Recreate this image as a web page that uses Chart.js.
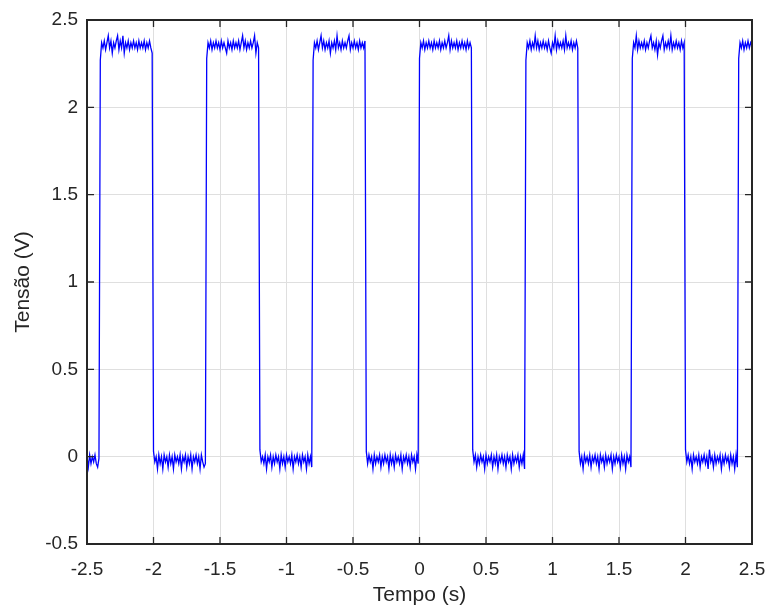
<!DOCTYPE html>
<html>
<head>
<meta charset="utf-8">
<title>Tensão x Tempo</title>
<script src="https://cdn.jsdelivr.net/npm/chart.js@4.4.1/dist/chart.umd.min.js"></script>
<style>
  html, body { margin: 0; padding: 0; background: #fff; }
  canvas { display: block; background: #fff; }
</style>
</head>
<body>
<canvas id="wave" width="768" height="608"></canvas>
<script>
var sampleStep = 0.01;

var segmentStart = [-2.5, -2.4, -2.0, -1.6, -1.2, -0.8, -0.4, 0.0, 0.4, 0.8, 1.2, 1.6, 2.0, 2.4];

var low00 = [0.00, -0.06, 0.01, -0.04, 0.00, -0.03, 0.01, -0.04, -0.06, -0.01];
var high01 = [2.27, 2.37, 2.34, 2.38, 2.33, 2.37, 2.41, 2.34, 2.38, 2.31,
              2.37, 2.34, 2.38, 2.41, 2.33, 2.38, 2.34, 2.41, 2.31, 2.37,
              2.34, 2.38, 2.33, 2.37, 2.34, 2.38, 2.34, 2.37, 2.33, 2.38,
              2.34, 2.37, 2.34, 2.38, 2.33, 2.37, 2.34, 2.38, 2.34, 2.31];
var low02 = [0.03, -0.03, 0.00, -0.07, 0.01, -0.04, 0.00, -0.07, 0.01, -0.03,
             0.00, -0.06, 0.01, -0.04, 0.00, -0.07, 0.01, -0.03, 0.00, -0.04,
             0.01, -0.07, 0.00, -0.03, 0.01, -0.06, 0.00, -0.04, 0.01, -0.07,
             0.00, -0.03, 0.01, -0.04, 0.00, -0.07, 0.01, -0.03, -0.06, -0.04];
var high03 = [2.28, 2.37, 2.34, 2.38, 2.33, 2.37, 2.34, 2.38, 2.34, 2.37,
              2.33, 2.38, 2.34, 2.37, 2.34, 2.31, 2.38, 2.34, 2.37, 2.33,
              2.38, 2.34, 2.37, 2.34, 2.38, 2.33, 2.37, 2.41, 2.34, 2.38,
              2.33, 2.37, 2.34, 2.38, 2.34, 2.37, 2.41, 2.31, 2.37, 2.34];
var low04 = [0.04, -0.03, 0.00, -0.04, 0.01, -0.07, 0.00, -0.03, 0.01, -0.06,
             0.00, -0.04, 0.01, -0.03, 0.00, -0.07, 0.01, -0.04, 0.00, -0.06,
             0.01, -0.03, 0.00, -0.04, 0.01, -0.07, 0.00, -0.03, 0.01, -0.04,
             0.00, -0.06, 0.01, -0.03, 0.00, -0.07, 0.01, -0.04, 0.00, -0.06];
var high05 = [2.27, 2.37, 2.34, 2.38, 2.33, 2.37, 2.41, 2.34, 2.38, 2.33,
              2.37, 2.34, 2.38, 2.31, 2.37, 2.34, 2.38, 2.33, 2.41, 2.34,
              2.37, 2.33, 2.38, 2.34, 2.37, 2.34, 2.38, 2.41, 2.33, 2.37,
              2.34, 2.38, 2.34, 2.37, 2.33, 2.38, 2.34, 2.37, 2.34, 2.38];
var low06 = [0.03, -0.04, 0.01, -0.03, 0.00, -0.07, 0.01, -0.04, 0.00, -0.03,
             0.01, -0.06, 0.00, -0.04, 0.01, -0.03, 0.00, -0.07, 0.01, -0.04,
             0.00, -0.06, 0.01, -0.03, 0.00, -0.04, 0.01, -0.07, 0.00, -0.03,
             0.01, -0.04, 0.00, -0.06, 0.01, -0.03, 0.00, -0.07, 0.01, -0.04];
var high07 = [2.28, 2.37, 2.34, 2.38, 2.33, 2.37, 2.34, 2.38, 2.34, 2.37,
              2.33, 2.38, 2.34, 2.37, 2.34, 2.38, 2.33, 2.37, 2.34, 2.38,
              2.34, 2.37, 2.41, 2.33, 2.38, 2.34, 2.37, 2.34, 2.38, 2.33,
              2.37, 2.34, 2.38, 2.34, 2.37, 2.33, 2.38, 2.34, 2.37, 2.34];
var low08 = [0.04, -0.03, 0.01, -0.06, 0.00, -0.04, 0.01, -0.03, 0.00, -0.07,
             0.01, -0.04, 0.00, -0.03, 0.01, -0.06, 0.00, -0.04, 0.01, -0.07,
             0.00, -0.03, 0.01, -0.04, 0.00, -0.06, 0.01, -0.03, 0.00, -0.07,
             0.01, -0.04, 0.00, -0.03, 0.01, -0.06, 0.00, -0.04, 0.01, -0.07];
var high09 = [2.27, 2.37, 2.34, 2.38, 2.33, 2.37, 2.34, 2.41, 2.34, 2.38,
              2.33, 2.37, 2.34, 2.38, 2.34, 2.37, 2.33, 2.38, 2.34, 2.31,
              2.37, 2.34, 2.41, 2.33, 2.38, 2.34, 2.37, 2.34, 2.38, 2.33,
              2.41, 2.34, 2.37, 2.34, 2.38, 2.33, 2.37, 2.34, 2.38, 2.34];
var low10 = [0.03, -0.04, 0.00, -0.07, 0.01, -0.03, 0.00, -0.04, 0.01, -0.06,
             0.00, -0.03, 0.01, -0.04, 0.00, -0.07, 0.01, -0.03, 0.00, -0.06,
             0.01, -0.04, 0.00, -0.03, 0.01, -0.07, 0.00, -0.04, 0.01, -0.03,
             0.00, -0.06, 0.01, -0.04, 0.00, -0.07, 0.01, -0.03, 0.00, -0.06];
var high11 = [2.28, 2.37, 2.34, 2.41, 2.33, 2.38, 2.34, 2.37, 2.34, 2.38,
              2.33, 2.37, 2.34, 2.38, 2.41, 2.34, 2.37, 2.33, 2.38, 2.30,
              2.37, 2.34, 2.38, 2.41, 2.33, 2.37, 2.34, 2.38, 2.34, 2.41,
              2.33, 2.37, 2.34, 2.38, 2.34, 2.37, 2.33, 2.38, 2.34, 2.37];
var low12 = [0.04, -0.03, 0.01, -0.04, 0.00, -0.07, 0.01, -0.03, 0.00, -0.04,
             0.01, -0.06, 0.00, -0.03, 0.01, -0.04, 0.00, -0.07, 0.04, -0.03,
             0.00, -0.06, 0.01, -0.04, 0.00, -0.03, 0.01, -0.07, 0.00, -0.04,
             0.01, -0.03, 0.00, -0.06, 0.01, -0.04, 0.00, -0.07, 0.01, -0.06];
var high13 = [2.28, 2.37, 2.34, 2.38, 2.33, 2.37, 2.34, 2.38, 2.34, 2.37, 2.35];

var segments = [low00, high01, low02, high03, low04, high05, low06, high07, low08, high09, low10, high11, low12, high13];

var xTickValues = [-2.5, -2, -1.5, -1, -0.5, 0, 0.5, 1, 1.5, 2, 2.5];
var xTickLabels = ['-2.5', '-2', '-1.5', '-1', '-0.5', '0', '0.5', '1', '1.5', '2', '2.5'];
var yTickValues = [-0.5, 0, 0.5, 1, 1.5, 2, 2.5];
var yTickLabels = ['-0.5', '0', '0.5', '1', '1.5', '2', '2.5'];

var axisColor = '#262626';
var fontFamily = '"Liberation Sans", Arial, Helvetica, sans-serif';

function buildPoints() {
    var pts = [];
    segments.forEach(function (seg, i) {
        seg.forEach(function (v, j) {
            var t = Math.round((segmentStart[i] + j * sampleStep) * 1000) / 1000;
            pts.push({ x: t, y: v });
        });
    });
    return pts;
}

// box round the plot with inward ticks on all four sides, like MATLAB axes
var boxAxes = {
    id: 'boxAxes',
    afterDatasetsDraw: function (chart) {
        var ctx = chart.ctx, a = chart.chartArea;
        var xs = chart.scales.x, ys = chart.scales.y;
        var len = 7;
        ctx.save();
        ctx.strokeStyle = axisColor;
        ctx.lineWidth = 1.3;
        ctx.beginPath();
        xTickValues.forEach(function (v) {
            var px = xs.getPixelForValue(v);
            ctx.moveTo(px, a.bottom); ctx.lineTo(px, a.bottom - len);
            ctx.moveTo(px, a.top); ctx.lineTo(px, a.top + len);
        });
        yTickValues.forEach(function (v) {
            var py = ys.getPixelForValue(v);
            ctx.moveTo(a.left, py); ctx.lineTo(a.left + len, py);
            ctx.moveTo(a.right, py); ctx.lineTo(a.right - len, py);
        });
        ctx.stroke();
        ctx.lineWidth = 2;
        ctx.strokeRect(a.left, a.top, a.right - a.left, a.bottom - a.top);
        ctx.restore();
    }
};

new Chart(document.getElementById('wave').getContext('2d'), {
    type: 'scatter',
    data: {
        datasets: [{
            data: buildPoints(),
            showLine: true,
            borderColor: '#0000ff',
            borderWidth: 1.3,
            pointRadius: 0,
            fill: false,
            tension: 0
        }]
    },
    options: {
        responsive: false,
        animation: false,
        devicePixelRatio: 1,
        layout: { padding: { top: 20, right: 16, left: 0, bottom: 0 } },
        plugins: { legend: { display: false }, tooltip: { enabled: false } },
        scales: {
            x: {
                type: 'linear',
                min: -2.5,
                max: 2.5,
                afterBuildTicks: function (s) { s.ticks = xTickValues.map(function (v) { return { value: v }; }); },
                afterFit: function (s) { s.height = 64; s.paddingLeft = 0; s.paddingRight = 0; },
                ticks: {
                    autoSkip: false,
                    maxRotation: 0,
                    padding: 14,
                    color: axisColor,
                    font: { family: fontFamily, size: 19 },
                    callback: function (v, i) { return xTickLabels[i]; }
                },
                grid: { color: '#dfdfdf', lineWidth: 1, drawTicks: false },
                border: { display: false },
                title: {
                    display: true,
                    text: 'Tempo (s)',
                    color: axisColor,
                    font: { family: fontFamily, size: 21 },
                    padding: { top: 0, bottom: 0 }
                }
            },
            y: {
                type: 'linear',
                min: -0.5,
                max: 2.5,
                afterBuildTicks: function (s) { s.ticks = yTickValues.map(function (v) { return { value: v }; }); },
                afterFit: function (s) { s.width = 87; s.paddingTop = 0; s.paddingBottom = 0; },
                ticks: {
                    autoSkip: false,
                    padding: 9,
                    color: axisColor,
                    font: { family: fontFamily, size: 19 },
                    callback: function (v, i) { return yTickLabels[i]; }
                },
                grid: { color: '#dfdfdf', lineWidth: 1, drawTicks: false },
                border: { display: false },
                title: {
                    display: true,
                    text: 'Tensão (V)',
                    color: axisColor,
                    font: { family: fontFamily, size: 21 },
                    padding: { top: 11, bottom: 0 }
                }
            }
        }
    },
    plugins: [boxAxes]
});
</script>
</body>
</html>
